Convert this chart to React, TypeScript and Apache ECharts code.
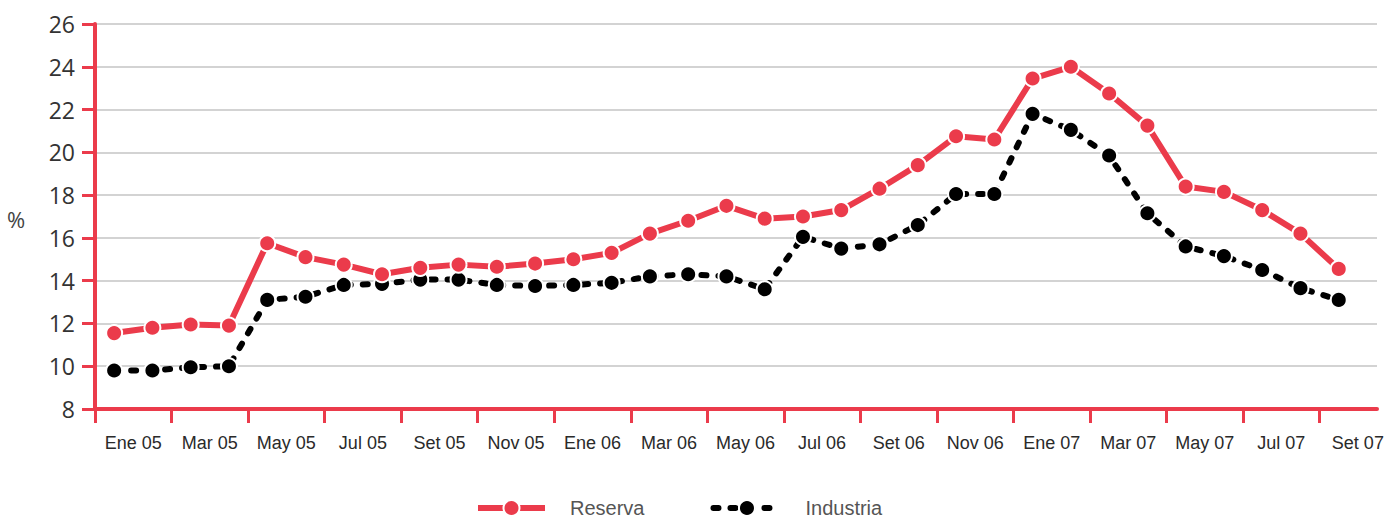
import React, { useEffect, useRef } from "react";
import * as echarts from "echarts";

const months = [
  "Ene 05", "Feb 05", "Mar 05", "Abr 05", "May 05", "Jun 05", "Jul 05", "Ago 05", "Set 05", "Oct 05", "Nov 05", "Dic 05",
  "Ene 06", "Feb 06", "Mar 06", "Abr 06", "May 06", "Jun 06", "Jul 06", "Ago 06", "Set 06", "Oct 06", "Nov 06", "Dic 06",
  "Ene 07", "Feb 07", "Mar 07", "Abr 07", "May 07", "Jun 07", "Jul 07", "Ago 07", "Set 07",
];

const tickLabels = [
  "Ene 05", "Mar 05", "May 05", "Jul 05", "Set 05", "Nov 05", "Ene 06", "Mar 06", "May 06",
  "Jul 06", "Set 06", "Nov 06", "Ene 07", "Mar 07", "May 07", "Jul 07", "Set 07",
];

const reserva = [
  11.55, 11.8, 11.95, 11.9, 15.75, 15.1, 14.75, 14.3, 14.6, 14.75, 14.65, 14.8,
  15.0, 15.3, 16.2, 16.8, 17.5, 16.9, 17.0, 17.3, 18.3, 19.4, 20.75, 20.6,
  23.45, 24.0, 22.75, 21.25, 18.4, 18.15, 17.3, 16.2, 14.55,
];

const industria = [
  9.8, 9.8, 9.95, 10.0, 13.1, 13.25, 13.8, 13.85, 14.05, 14.05, 13.8, 13.75,
  13.8, 13.9, 14.2, 14.3, 14.2, 13.6, 16.05, 15.5, 15.7, 16.6, 18.05, 18.05,
  21.8, 21.05, 19.85, 17.15, 15.6, 15.15, 14.5, 13.65, 13.1,
];

const yTicks = [8, 10, 12, 14, 16, 18, 20, 22, 24, 26];

const RED = "#EB3B4B";

export default function App() {
  const ref = useRef<HTMLDivElement>(null);

  useEffect(() => {
    document.body.style.margin = "0";
    if (!ref.current) return;
    const chart = echarts.init(ref.current, null, { renderer: "svg" });

    const xTickVals = tickLabels.map((_, k) => k * 2);
    const xLabelVals = tickLabels.map((_, k) => k * 2 + 1);

    const option: any = {
      animation: false,
      backgroundColor: "#ffffff",
      grid: {
        left: 95,
        right: 14,
        top: 24,
        bottom: 112,
        containLabel: false,
        outerBoundsMode: "none",
      },
      xAxis: {
        type: "value",
        min: 0,
        max: 33.5,
        splitLine: { show: false },
        axisLine: { show: true, lineStyle: { color: RED, width: 4 } },
        axisTick: {
          show: true,
          customValues: xTickVals,
          length: 14,
          lineStyle: { color: RED, width: 3 },
        },
        axisLabel: {
          customValues: xLabelVals,
          formatter: (v: number) => tickLabels[Math.round((v - 1) / 2)] ?? "",
          color: "#2a2a2a",
          fontFamily: "Liberation Sans, Arial, sans-serif",
          fontSize: 18,
          margin: 25,
        },
      },
      yAxis: {
        type: "value",
        min: 8,
        max: 26,
        interval: 1,
        axisLine: { show: true, lineStyle: { color: RED, width: 4 } },
        axisTick: {
          show: true,
          customValues: yTicks,
          length: 13,
          lineStyle: { color: RED, width: 3 },
        },
        axisLabel: {
          customValues: yTicks,
          color: "#333",
          fontFamily: "Open Sans, Liberation Sans, sans-serif",
          fontSize: 23,
          margin: 20,
        },
        splitLine: { show: true, lineStyle: { color: "#c4c4c4", width: 1.5 } },
      },
      legend: {
        left: 470,
        top: 493,
        itemWidth: 67,
        itemHeight: 20,
        itemGap: 66,
        lineStyle: { width: 6 },
        textStyle: {
          color: "#555",
          fontFamily: "Liberation Sans, Arial, sans-serif",
          fontSize: 20,
          padding: [0, 0, 0, 20],
        },
        data: ["Reserva", "Industria"],
      },
      graphic: [
        {
          type: "text",
          left: 7,
          top: 208,
          style: {
            text: "%",
            fill: "#444",
            font: "22px 'Open Sans', sans-serif",
          },
        },
      ],
      series: [
        {
          name: "Industria",
          type: "line",
          z: 3,
          data: industria.map((v, i) => [i + 0.5, v]),
          symbol: "circle",
          symbolSize: 16,
          itemStyle: { color: "#000", borderColor: "#fff", borderWidth: 2 },
          lineStyle: { color: "#000", width: 6, type: [5, 12], cap: "round" },
        },
        {
          name: "Reserva",
          type: "line",
          z: 4,
          data: reserva.map((v, i) => [i + 0.5, v]),
          symbol: "circle",
          symbolSize: 16,
          itemStyle: { color: RED, borderColor: "#fff", borderWidth: 2 },
          lineStyle: { color: RED, width: 6 },
        },
      ],
    };
    void months;
    chart.setOption(option);
    return () => chart.dispose();
  }, []);

  return (
    <div
      ref={ref}
      style={{ position: "absolute", left: 0, top: 0, width: 1391, height: 521 }}
    />
  );
}
